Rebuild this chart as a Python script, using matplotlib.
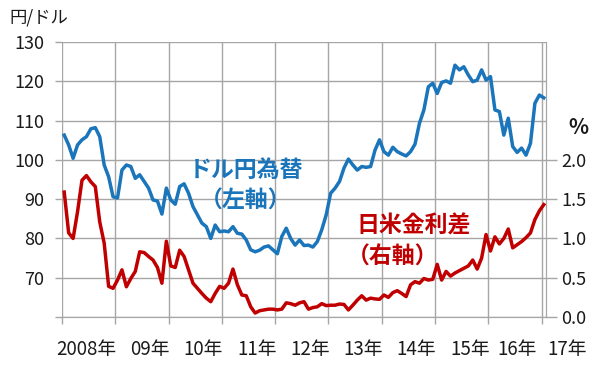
import numpy as np
import matplotlib
matplotlib.use("Agg")
import matplotlib.pyplot as plt
import matplotlib.transforms as mtransforms

plt.rcParams['font.family'] = ['Noto Sans CJK JP', 'DejaVu Sans']

# 月末値 2008年1月 ～ 2017年1月
usdjpy = [106.3, 103.8, 100.4, 103.8, 105.1, 105.9, 107.9, 108.2, 105.9, 98.7, 95.7, 90.6,
          90.3, 97.4, 98.7, 98.3, 95.3, 96.2, 94.5, 92.8, 89.8, 89.5, 86.2, 92.8,
          89.8, 88.7, 93.2, 93.9, 91.5, 88.1, 86.0, 83.9, 83.0, 80.0, 83.4, 81.7,
          81.9, 81.7, 83.0, 81.3, 81.1, 79.6, 77.1, 76.6, 77.0, 77.8, 78.1, 77.1,
          76.1, 80.5, 82.6, 80.0, 78.3, 79.6, 78.2, 78.3, 77.8, 79.2, 82.2, 86.0,
          91.5, 92.8, 94.5, 97.9, 100.2, 98.7, 97.4, 98.3, 98.1, 98.3, 102.5, 105.1,
          102.1, 101.2, 103.2, 102.1, 101.5, 101.0, 102.1, 104.0, 109.3, 112.7, 118.6, 119.5,
          116.9, 119.7, 120.1, 119.5, 124.1, 122.9, 123.7, 121.6, 119.9, 120.3, 122.9, 120.3,
          121.2, 112.7, 112.3, 106.3, 110.6, 103.4, 101.9, 103.0, 101.2, 104.2, 114.4, 116.5,
          115.8]
spread = [1.59, 1.07, 1.00, 1.34, 1.74, 1.80, 1.72, 1.66, 1.21, 0.94, 0.39, 0.365,
          0.47, 0.60, 0.385, 0.49, 0.58, 0.83, 0.82, 0.77, 0.725, 0.63, 0.43, 0.965,
          0.65, 0.63, 0.85, 0.77, 0.60, 0.43, 0.365, 0.30, 0.24, 0.195, 0.30, 0.39,
          0.365, 0.43, 0.61, 0.41, 0.28, 0.27, 0.13, 0.05, 0.08, 0.09, 0.10, 0.10,
          0.09, 0.10, 0.18, 0.17, 0.15, 0.18, 0.195, 0.10, 0.12, 0.13, 0.17, 0.145,
          0.15, 0.15, 0.165, 0.16, 0.09, 0.15, 0.215, 0.27, 0.215, 0.24, 0.23, 0.225,
          0.28, 0.25, 0.31, 0.335, 0.30, 0.26, 0.41, 0.45, 0.43, 0.49, 0.47, 0.48,
          0.67, 0.47, 0.58, 0.52, 0.56, 0.59, 0.62, 0.65, 0.725, 0.61, 0.75, 1.05,
          0.84, 1.02, 0.93, 1.00, 1.12, 0.88, 0.92, 0.96, 1.01, 1.07, 1.24, 1.35,
          1.43]
year_labels = ['2008年', '09年', '10年', '11年', '12年', '13年', '14年', '15年', '16年', '17年']
left_ticks = [70, 80, 90, 100, 110, 120, 130]
right_ticks = [0.0, 0.5, 1.0, 1.5, 2.0]

blue = '#1a75bb'
red = '#c00000'
grid_c = '#a6a6a6'
txt_c = '#1a1a1a'

fig = plt.figure(figsize=(6, 3.7), dpi=100)
ax = fig.add_axes([62/600, 1-317/370, 484/600, 275/370])
ax2 = ax.twinx()

x = np.arange(len(usdjpy))
ax.plot(x, usdjpy, color=blue, lw=2.5, solid_joinstyle='round', zorder=3)
ax2.plot(x, spread, color=red, lw=2.5, solid_joinstyle='round', zorder=3)

ax.set_xlim(-0.5, len(usdjpy) - 0.5)
ax.set_ylim(60, 130)
ax2.set_ylim(0, 3.5)

# 年の区切り（カテゴリ軸の境界）
xt = [-0.5 + 12*j for j in range(10)]
ax.set_xticks(xt)
ax.set_xticklabels([])
ax.tick_params(axis='x', length=5, color=grid_c, width=1)
ax.grid(axis='x', color=grid_c, lw=1)
ax.set_yticks([60] + left_ticks)
ax.set_yticklabels([''] + [str(v) for v in left_ticks], fontsize=13, color=txt_c)
ax.tick_params(axis='y', length=5, color=grid_c, width=1, pad=8)
ax.grid(axis='y', color=grid_c, lw=1)
ax.set_axisbelow(True)

ax2.set_yticks(right_ticks)
ax2.set_yticklabels(['%.1f' % v for v in right_ticks], fontsize=13, color=txt_c)
ax2.tick_params(axis='y', length=8, color=grid_c, width=1, pad=3)

for a in (ax, ax2):
    a.spines['top'].set_visible(False)
    a.spines['left'].set_visible(False)
    a.spines['right'].set_color(grid_c)
    a.spines['bottom'].set_color(grid_c)

# 年ラベル
tr = mtransforms.blended_transform_factory(ax.transData, ax.transAxes)
for j, lab in enumerate(year_labels[:8]):
    ax.text(xt[j+1] + 0.3, -0.12, lab, transform=tr, ha='right', va='center',
            fontsize=13.5, color=txt_c)
ax.text(106.5, -0.12, year_labels[8], transform=tr, ha='right', va='center',
        fontsize=13.5, color=txt_c)
ax.text(108.9, -0.12, year_labels[9], transform=tr, ha='left', va='center',
        fontsize=13.5, color=txt_c, clip_on=False)

fig.text(9/600, 1-18/370, '円/ドル', fontsize=12.5, color=txt_c, va='center', ha='left')
fig.text(578/600, 1-128/370, '%', fontsize=15, color=txt_c, va='center', ha='center',
         fontweight='bold')

fig.text(246/600, 1-170/370, 'ドル円為替', fontsize=16.5, color=blue, fontweight='bold',
         ha='center', va='center')
fig.text(246/600, 1-201/370, '（左軸）', fontsize=16.5, color=blue, fontweight='bold',
         ha='center', va='center')
fig.text(356/600, 1-226/370, '日米金利差', fontsize=16.5, color=red, fontweight='bold',
         ha='left', va='center')
fig.text(347/600, 1-257/370, '（右軸）', fontsize=16.5, color=red, fontweight='bold',
         ha='left', va='center')

fig.savefig('out.png', dpi=100)
